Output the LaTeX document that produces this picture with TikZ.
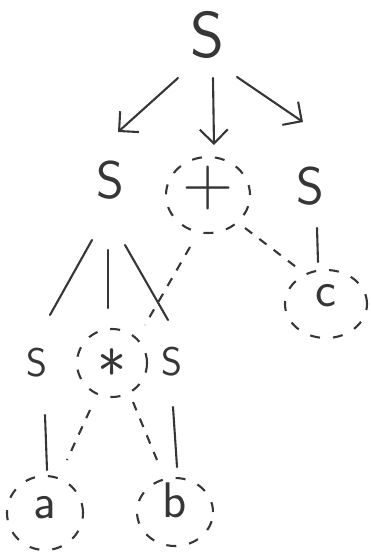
\documentclass[tikz,border=0pt]{standalone}
\usepackage{fontspec}
\usepackage{tikz}
\usetikzlibrary{shapes.geometric, arrows.meta, calc}
\definecolor{Pencil}{HTML}{363636}
\newcommand{\lift}[2]{\raisebox{#1}[\height][\depth]{#2}}
\tikzset{
  sym/.style={inner sep=0pt, text=Pencil,
              font=\sffamily\fontsize{#1}{#1}\selectfont},
  sym/.default=53,
  hole/.style 2 args={ellipse, draw=Pencil, line width=2.1pt,
              dash pattern=on 10pt off 13pt, inner sep=0pt,
              minimum width=#1, minimum height=#2, text=Pencil,
              font=\sffamily\fontsize{50}{50}\selectfont}
}

\begin{document}
\begin{tikzpicture}[
  x=1pt, y=-1pt,
  arr/.style={-{Straight Barb[length=14pt,width=28pt]}, line width=2.1pt,
              draw=Pencil, line cap=round},
  ln/.style={line width=2.1pt, draw=Pencil, line cap=round},
  dsh/.style={line width=2.1pt, draw=Pencil, dash pattern=on 9pt off 9pt}
]
  \useasboundingbox (0,0) rectangle (371,553);

  \node[sym=65]            (Top)  at (207,35)  {S};
  \node[sym]               (SL)   at (110,180) {S};
  \node[hole={84pt}{76pt},font=\sffamily\fontsize{70}{70}\selectfont]
                           (Plus) at (208,195) {\lift{7pt}{+}};
  \node[sym]               (SR)   at (310,186) {S};

  \node[sym=40]            (SA)   at (37,363)  {S};
  \node[hole={70pt}{68pt},font=\sffamily\fontsize{62}{62}\selectfont]
                           (Star) at (112,363) {\textasteriskcentered};
  \node[sym=40]            (SB)   at (172,362) {S};

  \node[hole={76pt}{74pt}] (LA)   at (45,513)  {\lift{5pt}{a}};
  \node[hole={76pt}{68pt}] (LB)   at (175,512) {\lift{12pt}{b}};
  \node[hole={82pt}{68pt}] (LC)   at (326,304) {\lift{8pt}{c}};

  % arrows from the root
  \draw[arr] ($(Top)+(-29,43)$) -- ($(SL)+(8,-48)$);
  \draw[arr] ($(Top)+(6,43)$)   -- ($(Plus)+(6,-50)$);
  \draw[arr] ($(Top)+(30,42)$)  -- ($(SR)+(-7,-64)$);

  % tree edges
  \draw[ln] ($(SL)+(-18,60)$) -- ($(SA)+(13,-48)$);
  \draw[ln] ($(SL)+(-2,70)$)  -- ($(Star)+(-4,-55)$);
  \draw[ln] ($(SL)+(15,65)$)  -- ($(SB)+(-4,-42)$);
  \draw[ln] ($(SR)+(7,42)$)   -- ($(LC)+(-8,-42)$);
  \draw[ln] ($(SA)+(8,52)$)   -- ($(LA)+(2,-43)$);
  \draw[ln] ($(SB)+(1,45)$)   -- ($(LB)+(2,-45)$);

  % operator links
  \draw[dsh] ($(Plus)+(-18,52)$) -- ($(Star)+(33,-38)$);
  \draw[dsh] ($(Plus)+(37,33)$)  -- ($(LC)+(-26,-34)$);
  \draw[dsh] ($(Star)+(-22,47)$) -- ($(LA)+(22,-53)$);
  \draw[dsh] ($(Star)+(21,39)$)  -- ($(LB)+(-18,-52)$);
\end{tikzpicture}
\end{document}
